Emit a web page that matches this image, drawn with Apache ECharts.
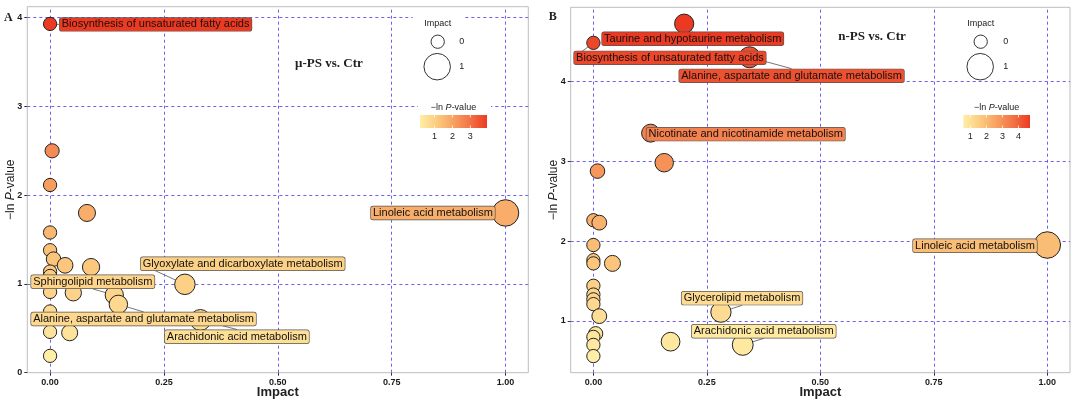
<!DOCTYPE html>
<html>
<head>
<meta charset="utf-8">
<script src="https://cdn.jsdelivr.net/npm/echarts@6/dist/echarts.min.js"></script>
<style>
html,body{margin:0;padding:0;background:#fff;}
#c{width:1080px;height:401px;}
</style>
</head>
<body>
<div id="c"></div>
<script>
// ---------- data ----------
const impactA = [0, 0.0045, 0, 0.081, 1.0, 0, 0, 0.0076, 0.033, 0.09, 0, 0, 0.141, 0.051, 0, 0.150, 0.296, 0.330, 0, 0, 0.043, 0];
const lnPA    = [3.93, 2.50, 2.115, 1.80, 1.80, 1.58, 1.38, 1.28, 1.21, 1.19, 1.14, 1.09, 0.875, 0.90, 0.91, 0.77, 0.996, 0.594, 0.69, 0.46, 0.45, 0.19];
const namesA  = ['Biosynthesis of unsaturated fatty acids', '', '', '', 'Linoleic acid metabolism', '', '', '', '', '', '', '',
                 'Sphingolipid metabolism', '', '', 'Alanine, aspartate and glutamate metabolism',
                 'Glyoxylate and dicarboxylate metabolism', 'Arachidonic acid metabolism', '', '', '', ''];

const impactB = [0.200, 0, 0.344, 0.126, 0.156, 0.009, 0, 0.013, 0, 1.0, 0, 0, 0.042, 0, 0, 0, 0, 0.013, 0.281, 0.005, 0, 0, 0, 0.170, 0.329];
const lnPB    = [4.72, 4.48, 4.30, 3.35, 2.98, 2.875, 2.26, 2.23, 1.95, 1.95, 1.76, 1.72, 1.72, 1.44, 1.33, 1.27, 1.21, 1.06, 1.11, 0.84, 0.80, 0.70, 0.56, 0.74, 0.70];
const namesB  = ['Taurine and hypotaurine metabolism', 'Biosynthesis of unsaturated fatty acids', 'Alanine, aspartate and glutamate metabolism',
                 'Nicotinate and nicotinamide metabolism', '', '', '', '', '', 'Linoleic acid metabolism', '', '', '', '', '', '', '', '',
                 'Glycerolipid metabolism', '', '', '', '', '', 'Arachidonic acid metabolism'];

const xTicks  = [0, 0.25, 0.5, 0.75, 1.0];
const yTicksA = [0, 1, 2, 3, 4];
const yTicksB = [1, 2, 3, 4];
const cbTicksA = [1, 2, 3];
const cbTicksB = [1, 2, 3, 4];
const titleA = 'μ-PS vs. Ctr';
const titleB = 'n-PS vs. Ctr';

// ---------- styles ----------
const gradColors = ['#FFEEA6', '#FCCB80', '#F7A161', '#F27245', '#EC3A22'];
const gridColor = '#6E5FF0';
const sizeOf = imp => 13.3 + 13.2 * Math.sqrt(imp);

// label placement: [anchor edge, offset of that edge from point x, offset of label centre from point y]
const labelPosA = {
  'Biosynthesis of unsaturated fatty acids': ['l', 9.0, 0.5],
  'Linoleic acid metabolism': ['r', -10, 0],
  'Sphingolipid metabolism': ['l', -83.8, -13.3],
  'Alanine, aspartate and glutamate metabolism': ['l', -87.9, 14.7],
  'Glyoxylate and dicarboxylate metabolism': ['l', -44.8, -20.6],
  'Arachidonic acid metabolism': ['l', -36.2, 16.7]
};
const labelPosB = {
  'Taurine and hypotaurine metabolism': ['l', -82.8, 15],
  'Biosynthesis of unsaturated fatty acids': ['l', -20, 15],
  'Alanine, aspartate and glutamate metabolism': ['l', -71, 18.6],
  'Nicotinate and nicotinamide metabolism': ['l', -4.8, 1],
  'Linoleic acid metabolism': ['r', -9.7, 0.7],
  'Glycerolipid metabolism': ['l', -40, -14],
  'Arachidonic acid metabolism': ['l', -51.7, -13.7]
};

function buildData(imp, lnp, names) {
  return imp.map((v, i) => ({
    value: [v, lnp[i]],
    name: names[i],
    label: { show: !!names[i] }
  }));
}
function makeLayout(names, pos) {
  return function (p) {
    const o = pos[names[p.dataIndex]];
    if (!o) return {};
    const cx = p.rect.x + p.rect.width / 2;
    const cy = p.rect.y + p.rect.height / 2;
    const lr = p.labelRect;
    const tx = o[0] === 'l' ? cx + o[1] : cx + o[1] - lr.width;
    return { dx: tx - lr.x, dy: cy + o[2] - (lr.y + lr.height / 2) };
  };
}
function gridLines(xs, ys) {
  return {
    silent: true, symbol: ['none', 'none'], z: 1,
    label: { show: false },
    lineStyle: { color: gridColor, type: [3, 3], width: 1, opacity: 1 },
    emphasis: { disabled: true },
    data: xs.map(v => ({ xAxis: v })).concat(ys.map(v => ({ yAxis: v })))
  };
}
function seriesOf(idx, imp, lnp, names, pos, ys) {
  return {
    type: 'scatter', xAxisIndex: idx, yAxisIndex: idx, z: 3,
    data: buildData(imp, lnp, names),
    symbolSize: val => sizeOf(val[0]),
    itemStyle: { borderColor: '#222', borderWidth: 1, opacity: 1 },
    label: {
      show: false, position: 'inside', formatter: '{b}',
      fontFamily: 'Liberation Sans, Arial, sans-serif', fontSize: 11, color: '#111',
      backgroundColor: 'auto', borderColor: '#555', borderWidth: 0.7, borderRadius: 2,
      padding: [1, 2, 0, 2], lineHeight: 12
    },
    labelLine: { show: true, lineStyle: { color: '#777', width: 1 } },
    labelLayout: makeLayout(names, pos),
    emphasis: { disabled: true },
    markLine: gridLines(xTicks, ys)
  };
}
const axisLabelStyle = { fontFamily: 'Liberation Sans, Arial, sans-serif', fontWeight: 'bold', fontSize: 9, color: '#1a1a1a' };
function xAxisOf(idx) {
  return {
    gridIndex: idx, type: 'value', min: -0.05, max: 1.05,
    name: 'Impact', nameLocation: 'middle', nameGap: 13, nameMoveOverlap: false,
    nameTextStyle: { fontFamily: 'Liberation Sans, Arial, sans-serif', fontWeight: 'bold', fontSize: 13, color: '#222' },
    axisLine: { show: false, onZero: false },
    axisTick: { show: true, length: 3, lineStyle: { color: '#333' }, customValues: xTicks },
    axisLabel: Object.assign({ margin: 5, customValues: xTicks, formatter: v => v.toFixed(2) }, axisLabelStyle),
    splitLine: { show: false }
  };
}
function yAxisOf(idx, min, max, ticks) {
  return {
    gridIndex: idx, type: 'value', min: min, max: max,
    name: '−ln {i|P}-value', nameLocation: 'middle', nameGap: 11, nameRotate: 90, nameMoveOverlap: false,
    nameTextStyle: { fontFamily: 'Liberation Sans, Arial, sans-serif', fontSize: 12, color: '#222',
      rich: { i: { fontStyle: 'italic', fontSize: 12, color: '#222', fontFamily: 'Liberation Sans, Arial, sans-serif' } } },
    axisLine: { show: false, onZero: false },
    axisTick: { show: true, length: 3, lineStyle: { color: '#333' }, customValues: ticks },
    axisLabel: Object.assign({ margin: 5, customValues: ticks }, axisLabelStyle),
    splitLine: { show: false }
  };
}

// legend helpers (graphic)
const G = [];
function txt(x, y, text, font, extra) {
  G.push({ type: 'text', z: 10, x: x, y: y, style: Object.assign({ text: text, font: font, fill: '#222', align: 'center', verticalAlign: 'middle' }, extra || {}) });
}
function legend(cx, impX, lblX, bar, ticks, vmin, vmax, title, tx, ty) {
  G.push({ type: 'rect', z: 9, shape: { x: cx - 25, y: 10, width: 50, height: 70 }, style: { fill: '#fff' } });
  G.push({ type: 'rect', z: 9, shape: { x: bar.x - 2, y: 98, width: bar.w + 6, height: 46 }, style: { fill: '#fff' } });
  txt(impX, 24, 'Impact', '9px "Liberation Sans", Arial');
  G.push({ type: 'circle', z: 10, shape: { cx: impX, cy: 41.7, r: sizeOf(0) / 2 }, style: { fill: 'none', stroke: '#333', lineWidth: 1 } });
  G.push({ type: 'circle', z: 10, shape: { cx: impX - 0.5, cy: 66.7, r: sizeOf(1) / 2 }, style: { fill: 'none', stroke: '#333', lineWidth: 1 } });
  txt(lblX, 41.7, '0', '9px "Liberation Sans", Arial');
  txt(lblX, 66.7, '1', '9px "Liberation Sans", Arial');
  txt(bar.x + bar.w / 2, 107.3, '−ln {i|P}-value', '9px "Liberation Sans", Arial',
      { rich: { i: { fontStyle: 'italic', fontSize: 9, fontFamily: 'Liberation Sans' } } });
  G.push({ type: 'rect', z: 10, shape: { x: bar.x, y: 115, width: bar.w, height: 13 },
    style: { fill: { type: 'linear', x: 0, y: 0, x2: 1, y2: 0,
      colorStops: gradColors.map((c, i) => ({ offset: i / (gradColors.length - 1), color: c })) } } });
  ticks.forEach(t => {
    const x = bar.x + (t - vmin) / (vmax - vmin) * bar.w;
    txt(x, 136.8, String(t), '9px "Liberation Sans", Arial');
    G.push({ type: 'line', z: 10, shape: { x1: x, y1: 115, x2: x, y2: 117.5 }, style: { stroke: '#fff', lineWidth: 0.8 } });
    G.push({ type: 'line', z: 10, shape: { x1: x, y1: 125.5, x2: x, y2: 128 }, style: { stroke: '#fff', lineWidth: 0.8 } });
  });
  txt(tx, ty, title, 'bold 13px "Liberation Serif", "Times New Roman", serif');
}
const minA = Math.min(...lnPA), maxA = Math.max(...lnPA);
const minB = Math.min(...lnPB), maxB = Math.max(...lnPB);
legend(437.7, 437.7, 461.7, { x: 420, w: 67 }, cbTicksA, minA, maxA, titleA, 328.9, 63.3);
legend(982, 980.7, 1005.7, { x: 963.3, w: 66.7 }, cbTicksB, minB, maxB, titleB, 872, 36.7);
txt(8.3, 17.5, 'A', 'bold 12px "Liberation Serif", "Times New Roman", serif');
txt(552.8, 16.9, 'B', 'bold 12px "Liberation Serif", "Times New Roman", serif');

const chart = echarts.init(document.getElementById('c'));
chart.setOption({
  backgroundColor: '#fff',
  animation: false,
  grid: [
    { left: 27.3, top: 6.7, width: 501, height: 366, show: true, borderColor: '#BDBDBD', borderWidth: 1, backgroundColor: '#fff', containLabel: false, outerBoundsMode: 'none' },
    { left: 570.7, top: 7.3, width: 499.3, height: 365.4, show: true, borderColor: '#BDBDBD', borderWidth: 1, backgroundColor: '#fff', containLabel: false, outerBoundsMode: 'none' }
  ],
  xAxis: [xAxisOf(0), xAxisOf(1)],
  yAxis: [yAxisOf(0, 0, 4.124, yTicksA), yAxisOf(1, 0.352, 4.925, yTicksB)],
  visualMap: [
    { type: 'continuous', show: false, seriesIndex: 0, dimension: 1, min: minA, max: maxA, inRange: { color: gradColors } },
    { type: 'continuous', show: false, seriesIndex: 1, dimension: 1, min: minB, max: maxB, inRange: { color: gradColors } }
  ],
  series: [
    seriesOf(0, impactA, lnPA, namesA, labelPosA, [1, 2, 3, 4]),
    seriesOf(1, impactB, lnPB, namesB, labelPosB, yTicksB)
  ],
  graphic: { elements: G }
});
</script>
</body>
</html>
